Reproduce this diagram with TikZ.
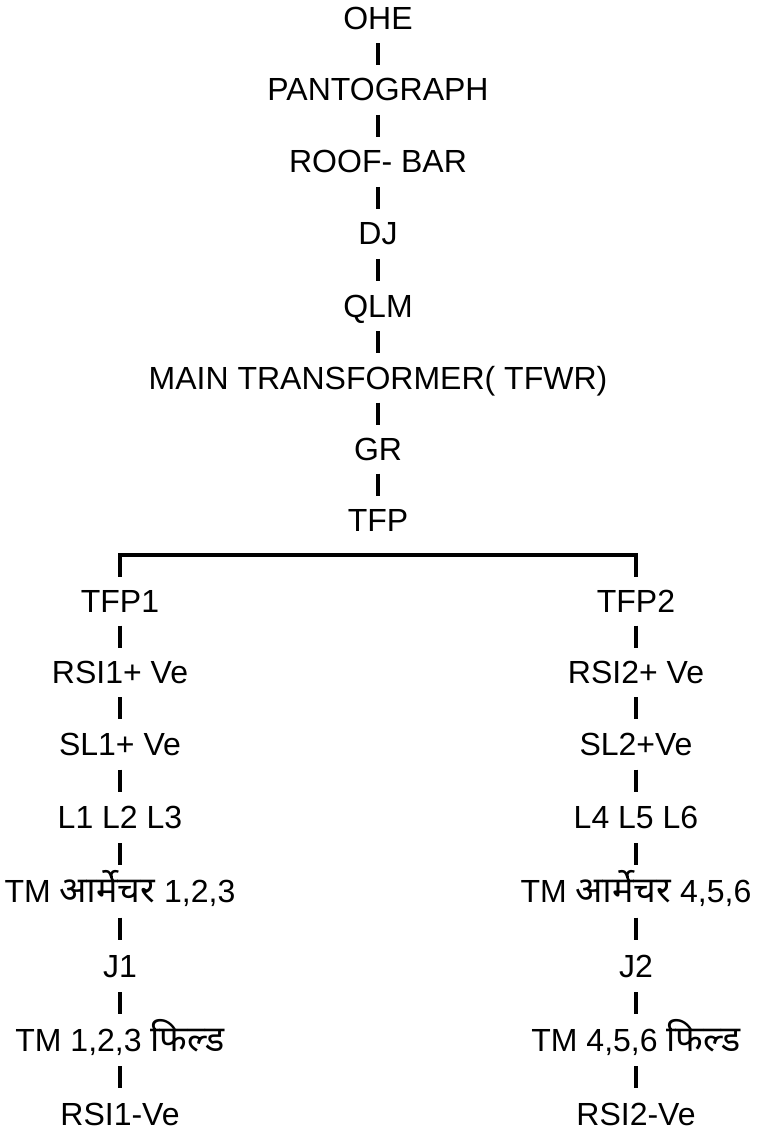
\documentclass[tikz,border=0pt]{standalone}
\usepackage{fontspec}
\setmainfont{Liberation Sans}
\newfontfamily\deva[Script=Devanagari,Scale=1.12]{Noto Sans}
\usetikzlibrary{calc}

\begin{document}
\begin{tikzpicture}[x=1pt,y=-1pt,
  lbl/.style={anchor=base, inner sep=0pt, text height=22pt, text depth=0pt,
              font=\fontsize{32}{37}\selectfont},
  link/.style={line width=4.5pt},
  bracket/.style={line width=4pt}]
\useasboundingbox (0,0) rectangle (757,1131);

% main supply chain
\node[lbl] (ohe)  at (378,30)  {OHE};
\node[lbl] (pan)  at (378,101) {PANTOGRAPH};
\node[lbl] (roof) at (378,173) {ROOF- BAR};
\node[lbl] (dj)   at (378,245) {DJ};
\node[lbl] (qlm)  at (378,317) {QLM};
\node[lbl] (main) at (378,389) {MAIN TRANSFORMER( TFWR)};
\node[lbl] (gr)   at (378,460) {GR};
\node[lbl] (tfp)  at (378,531) {TFP};

% left branch
\node[lbl] (l1) at (120,612)  {TFP1};
\node[lbl] (l2) at (120,683)  {RSI1+ Ve};
\node[lbl] (l3) at (120,755)  {SL1+ Ve};
\node[lbl] (l4) at (120,828)  {L1 L2 L3};
\node[lbl] (l5) at (120,902)  {TM {\deva आर्मेचर} 1,2,3};
\node[lbl] (l6) at (120,977)  {J1};
\node[lbl] (l7) at (120,1051) {TM 1,2,3 {\deva फिल्ड}};
\node[lbl] (l8) at (120,1125) {RSI1-Ve};

% right branch
\node[lbl] (r1) at (636,612)  {TFP2};
\node[lbl] (r2) at (636,683)  {RSI2+ Ve};
\node[lbl] (r3) at (636,755)  {SL2+Ve};
\node[lbl] (r4) at (636,828)  {L4 L5 L6};
\node[lbl] (r5) at (636,902)  {TM {\deva आर्मेचर} 4,5,6};
\node[lbl] (r6) at (636,977)  {J2};
\node[lbl] (r7) at (636,1051) {TM 4,5,6 {\deva फिल्ड}};
\node[lbl] (r8) at (636,1125) {RSI2-Ve};

% short bars between successive labels
\foreach \a/\b in {ohe/pan, pan/roof, roof/dj, dj/qlm, qlm/main, main/gr, gr/tfp,
                   l1/l2, l2/l3, l3/l4, l4/l5, l5/l6, l6/l7, l7/l8,
                   r1/r2, r2/r3, r3/r4, r4/r5, r5/r6, r6/r7, r7/r8}
  \draw[link] ($(\a.south)!0.5!(\b.north)+(0,-11)$) -- ($(\a.south)!0.5!(\b.north)+(0,11)$);

% split of TFP into two branches
\draw[bracket] ($(l1.north)+(0,-13)$) |- ($(tfp.south)+(0,24)$) -| ($(r1.north)+(0,-13)$);
\end{tikzpicture}
\end{document}
